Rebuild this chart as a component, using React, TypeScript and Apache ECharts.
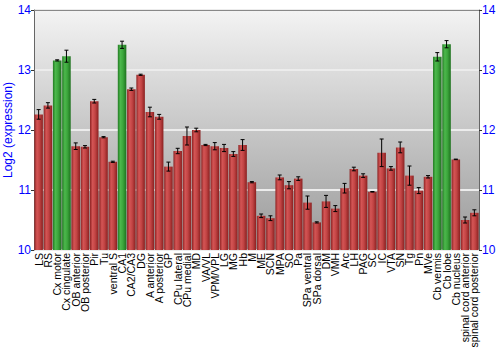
import React, { useEffect, useRef } from "react";
import * as echarts from "echarts";

const categories = [
  "LS", "RS", "Cx motor", "Cx cingulate", "OB anterior", "OB posterior", "Pir", "Tu",
  "ventral S", "CA1", "CA2/CA3", "DG", "A anterior", "A posterior", "GP", "CPu lateral",
  "CPu medial", "MD", "VA/VL", "VPM/VPL", "LG", "MG", "Hb", "M", "ME", "SCN", "MPA", "SO",
  "Pa", "SPa ventral", "SPa dorsal", "DM", "VMH", "Arc", "LH", "PAG", "SC", "IC", "VTA",
  "SN", "Tg", "Pn", "MVe", "Cb vermis", "Cb lobe", "Cb nucleus", "spinal cord anterior",
  "spinal cord posterior",
];

const values = [
  12.26, 12.41, 13.16, 13.23, 11.73, 11.72, 12.48, 11.88,
  11.47, 13.42, 12.68, 12.92, 12.3, 12.22, 11.39, 11.65,
  11.9, 12.0, 11.75, 11.73, 11.7, 11.6, 11.75, 11.13, 10.57, 10.53, 11.21, 11.08,
  11.19, 10.79, 10.46, 10.81, 10.69, 11.03, 11.35, 11.24, 10.97, 11.62, 11.36,
  11.71, 11.24, 10.99, 11.22, 13.22, 13.43, 11.51, 10.5,
  10.62,
];

const errors = [
  0.08, 0.045, 0.01, 0.1, 0.055, 0.02, 0.03, 0.01,
  0.01, 0.06, 0.02, 0.01, 0.08, 0.04, 0.075, 0.045,
  0.15, 0.03, 0.01, 0.06, 0.06, 0.04, 0.09, 0.01, 0.03, 0.04, 0.04, 0.06,
  0.03, 0.11, 0.01, 0.1, 0.05, 0.08, 0.03, 0.03, 0.005, 0.23, 0.03,
  0.09, 0.16, 0.05, 0.02, 0.07, 0.06, 0.005, 0.05,
  0.05,
];

const highlighted = ["Cx motor", "Cx cingulate", "CA1", "Cb vermis", "Cb lobe"];

const yTicks = { min: 10, max: 14, interval: 1 };

export default function App() {
  const ref = useRef<HTMLDivElement>(null);

  useEffect(() => {
    if (!ref.current) return;
    const chart = echarts.init(ref.current, undefined, { renderer: "svg" });

    const redGrad = new echarts.graphic.LinearGradient(0, 0, 1, 0, [
      { offset: 0, color: "#8e2323" },
      { offset: 0.3, color: "#d45555" },
      { offset: 0.6, color: "#c24444" },
      { offset: 1, color: "#8a2020" },
    ]);
    const greenGrad = new echarts.graphic.LinearGradient(0, 0, 1, 0, [
      { offset: 0, color: "#237a23" },
      { offset: 0.3, color: "#4cb84c" },
      { offset: 0.6, color: "#3ca63c" },
      { offset: 1, color: "#1f721f" },
    ]);

    const barData = values.map((v, i) => ({
      value: v,
      itemStyle: {
        color: highlighted.includes(categories[i]) ? greenGrad : redGrad,
      },
    }));

    const errData = values.map((v, i) => [i, v - errors[i], v + errors[i]]);

    const yAxisBase = {
      type: "value" as const,
      min: yTicks.min,
      max: yTicks.max,
      interval: yTicks.interval,
      axisLine: { show: true, lineStyle: { color: "#666", width: 1 } },
      axisTick: { show: true, length: 3, lineStyle: { color: "#333" } },
      axisLabel: {
        color: "#0000ff",
        fontSize: 12,
        fontFamily: "Liberation Sans",
        margin: 3,
      },
    };

    chart.setOption({
      animation: false,
      grid: {
        left: 34,
        right: 21,
        top: 10,
        bottom: 100,
        outerBoundsMode: "none",
        containLabel: false,
        show: true,
        borderWidth: 0,
        backgroundColor: new echarts.graphic.LinearGradient(0, 0, 0, 1, [
          { offset: 0, color: "#f3f3f3" },
          { offset: 1, color: "#9a9a9a" },
        ]),
      },
      xAxis: [
        {
          type: "category",
          data: categories,
          axisLine: { show: false },
          axisTick: { show: false },
          axisLabel: {
            interval: 0,
            rotate: 90,
            fontSize: 10.5,
            color: "#000",
            fontFamily: "Liberation Sans",
            margin: 3,
          },
        },
        {
          type: "category",
          data: categories,
          position: "top",
          axisLine: { show: true, lineStyle: { color: "#888", width: 1 } },
          axisTick: { show: false },
          axisLabel: { show: false },
        },
      ],
      yAxis: [
        {
          ...yAxisBase,
          position: "left",
          name: "Log2 (expression)",
          nameLocation: "middle",
          nameGap: 20,
          nameMoveOverlap: false,
          nameTextStyle: {
            color: "#0000ff",
            fontSize: 12,
            fontFamily: "Liberation Sans",
          },
          splitLine: { show: true, lineStyle: { color: "#ececec", width: 2 } },
        },
        {
          ...yAxisBase,
          position: "right",
          splitLine: { show: false },
        },
      ],
      series: [
        {
          type: "bar",
          data: barData,
          barCategoryGap: "8%",
          yAxisIndex: 0,
          xAxisIndex: 0,
          z: 2,
        },
        {
          type: "custom",
          yAxisIndex: 0,
          xAxisIndex: 0,
          data: errData,
          z: 3,
          renderItem: (params: any, api: any) => {
            const x = api.value(0);
            const lo = api.coord([x, api.value(1)]);
            const hi = api.coord([x, api.value(2)]);
            const cap = 2;
            const style = { stroke: "#000", lineWidth: 1 };
            return {
              type: "group",
              children: [
                { type: "line", shape: { x1: lo[0], y1: lo[1], x2: hi[0], y2: hi[1] }, style },
                { type: "line", shape: { x1: lo[0] - cap, y1: lo[1], x2: lo[0] + cap, y2: lo[1] }, style },
                { type: "line", shape: { x1: hi[0] - cap, y1: hi[1], x2: hi[0] + cap, y2: hi[1] }, style },
              ],
            };
          },
        },
      ],
    });

    return () => chart.dispose();
  }, []);

  return (
    <div
      ref={ref}
      style={{ position: "fixed", left: 0, top: 0, width: 500, height: 350, background: "#fff" }}
    />
  );
}
